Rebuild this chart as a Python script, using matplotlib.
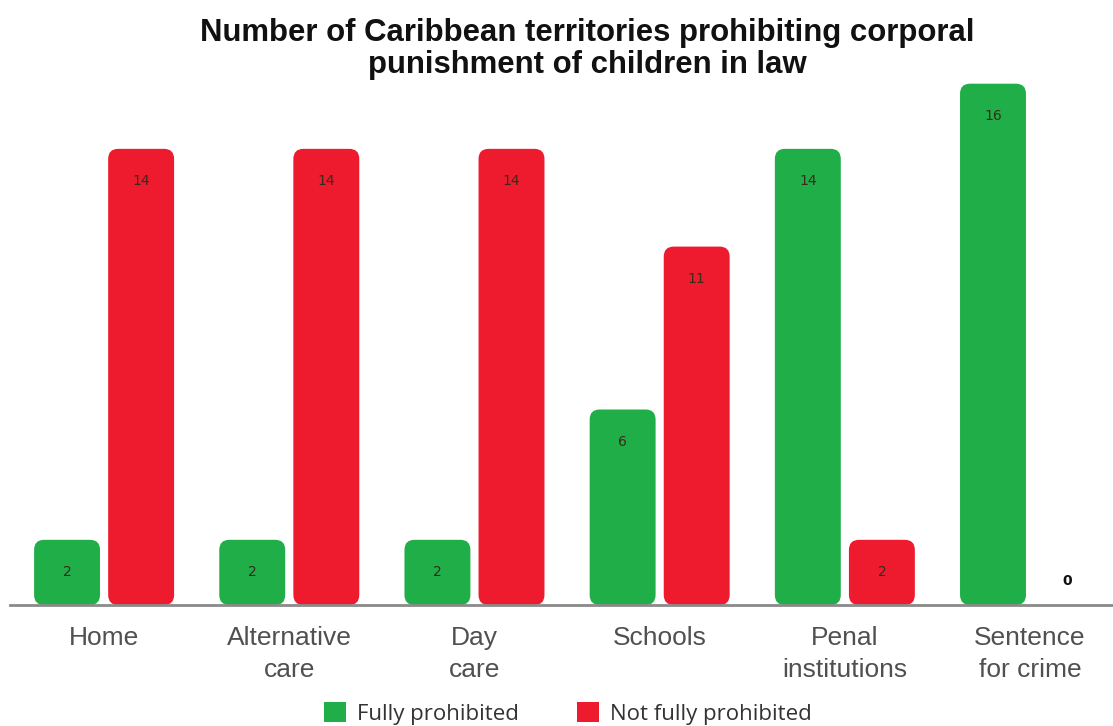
import matplotlib
matplotlib.use("Agg")
import matplotlib.pyplot as plt
from matplotlib.patches import FancyBboxPatch, Patch
import numpy as np

categories = ["Home", "Alternative\ncare", "Day\ncare", "Schools",
              "Penal\ninstitutions", "Sentence\nfor crime"]
fully = [2, 2, 2, 6, 14, 16]
not_fully = [14, 14, 14, 11, 2, 0]

GREEN = "#1fae48"
RED = "#ee1b2f"

fig = plt.figure(figsize=(11.13, 7.26), dpi=100)
ax = fig.add_axes([0.009, 0.1667, 0.991, 0.727])

x = np.arange(len(categories))
width = 0.356
off = 0.2

ax.set_xlim(-0.508, 5.448)
ax.set_ylim(0, 16.2)


def rounded_bars(xs, vals, color):
    bars = ax.bar(xs, vals, width, color="none", edgecolor="none")
    # rounding ~10 px in both directions
    rx = 0.054
    ry = 0.307
    for b in bars:
        h = b.get_height()
        if h <= 0:
            continue
        p = FancyBboxPatch((b.get_x(), 0), b.get_width(), h,
                           boxstyle="round,pad=0,rounding_size=%f" % rx,
                           mutation_aspect=ry / rx,
                           facecolor=color, edgecolor="none", zorder=2)
        ax.add_patch(p)
    return bars


rounded_bars(x - off, fully, GREEN)
rounded_bars(x + off, not_fully, RED)

for xs, vals in ((x - off, fully), (x + off, not_fully)):
    for xi, v in zip(xs, vals):
        if v > 0:
            ax.text(xi, v - 1, str(v), ha="center", va="center",
                    fontsize=10, color="#3a2a1a", zorder=3)
        else:
            ax.text(xi, 0.75, str(v), ha="center", va="center",
                    fontsize=10, fontweight="bold", color="#111111", zorder=3)

for s in ("top", "right", "left"):
    ax.spines[s].set_visible(False)
ax.spines["bottom"].set_color("#8a8a8a")
ax.spines["bottom"].set_linewidth(2)
ax.set_yticks([])
ax.set_xticks(x)
ax.set_xticklabels(categories, fontsize=19, color="#505050",
                   fontfamily="Liberation Sans", linespacing=1.42)
ax.tick_params(axis="x", length=0, pad=15)

fig.suptitle("Number of Caribbean territories prohibiting corporal\n"
             "punishment of children in law",
             x=0.528, y=0.975, fontsize=22.4, fontweight="bold",
             fontfamily="Liberation Sans", color="#111111", linespacing=1.1)

handles = [Patch(facecolor=GREEN, label="Fully prohibited"),
           Patch(facecolor=RED, label="Not fully prohibited")]
fig.legend(handles=handles, loc="lower center", bbox_to_anchor=(0.51, -0.026),
           ncol=2, frameon=False, prop={"family": "Open Sans", "size": 16},
           handlelength=1.0, handleheight=1.0, handletextpad=0.5,
           columnspacing=2.6, labelcolor="#333333")

fig.savefig("out.png", dpi=100)
